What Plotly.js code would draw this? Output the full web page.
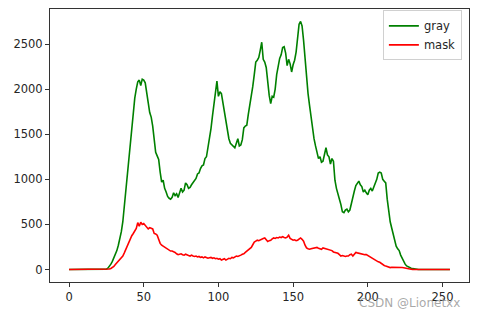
<!DOCTYPE html>
<html>
<head>
<meta charset="utf-8">
<script src="https://cdn.plot.ly/plotly-3.0.1.min.js"></script>
<style>html,body{margin:0;padding:0;background:#fff;}#chart{width:478px;height:318px;}</style>
</head>
<body>
<div id="chart"></div>
<script>
// histogram bins 0..255
const grayCounts = [
0,0,0,0,0,0,0,0,0,0, 0,0,0,0,0,0,0,0,0,0, 0,0,0,0,0,5,15,35,60,90,
125,160,210,270,330,420,530,700,880,1080, 1260,1440,1620,1790,1900,2000,2080,2100,2040,2110,
2100,2070,1980,1850,1740,1690,1590,1450,1300,1260, 1220,1080,970,990,900,860,810,790,780,800,
850,820,840,800,860,900,860,880,960,940, 900,910,940,960,990,1010,1060,1070,1120,1150,
1160,1230,1250,1340,1430,1560,1700,1850,1950,2090, 1920,1970,1950,1840,1760,1640,1540,1450,1400,1380,
1360,1350,1400,1450,1370,1380,1440,1570,1590,1600, 1720,1810,1920,2030,2160,2300,2320,2350,2430,2520,
2330,2300,2240,2060,1930,1840,1920,1910,2000,2160, 2270,2340,2380,2460,2470,2400,2260,2330,2280,2190,
2270,2320,2410,2600,2720,2750,2700,2540,2330,2140, 1950,1820,1690,1540,1450,1370,1290,1230,1250,1190,
1200,1280,1350,1270,1250,1170,1230,1200,990,900, 850,780,720,640,630,660,670,640,660,740,
810,870,930,950,980,940,920,860,880,850, 830,880,900,870,910,960,1000,1070,1080,1070,
1000,980,960,780,640,530,460,390,340,260, 230,210,160,120,85,60,40,30,20,15,
10,6,3,2,1,1,0,0,0,0, 0,0,0,0,0,0,0,0,0,0,
0,0,0,0,0,0
];
const maskCounts = [
0,0,0,0,0,0,0,0,0,0, 0,0,0,0,0,0,0,0,0,0, 0,0,0,0,0,0,2,6,12,22,
35,55,75,100,115,130,150,185,225,265, 305,340,375,400,430,455,520,480,525,500,
510,490,480,450,465,455,450,400,395,380, 320,290,270,260,250,235,225,215,205,205,
200,190,175,165,170,175,165,160,170,160, 155,150,160,150,145,150,140,145,135,140,
130,140,135,125,130,135,125,130,120,125, 115,120,105,110,120,105,115,125,120,135,
130,140,150,145,150,160,170,175,190,205, 215,230,245,275,305,315,325,320,330,340,
345,350,335,310,320,325,340,350,345,355, 350,360,355,365,355,350,360,380,345,330,
325,330,320,325,340,350,335,315,270,240, 230,225,230,235,235,240,245,235,230,225,
240,235,230,225,220,215,210,195,190,185, 180,165,150,155,150,145,150,150,165,170,
150,165,190,185,180,180,175,170,165,165, 155,145,135,125,115,100,90,85,80,65,
50,45,38,30,25,22,25,25,28,30, 30,28,25,22,20,15,10,7,5,3,
2,1,0,0,0,0,0,0,0,0, 0,0,0,0,0,0,0,0,0,0,
0,0,0,0,0,0
];
const bins = grayCounts.map((_, i) => i);
const seriesNames = ['gray', 'mask'];
const xTicks = [0, 50, 100, 150, 200, 250];
const yTicks = [0, 500, 1000, 1500, 2000, 2500];

const font = {family: 'DejaVu Sans', size: 11.5, color: '#262626'};
const traces = [
  {x: bins, y: grayCounts, name: seriesNames[0], type: 'scatter', mode: 'lines',
   line: {color: '#008000', width: 1.6}},
  {x: bins, y: maskCounts, name: seriesNames[1], type: 'scatter', mode: 'lines',
   line: {color: '#ff0000', width: 1.6}}
];
const axisCommon = {showgrid: false, zeroline: false, showline: true, mirror: true,
  linecolor: '#333', linewidth: 1, ticks: 'outside', ticklen: 4, tickwidth: 1,
  tickcolor: '#333', tickfont: font};
const layout = {
  width: 478, height: 318,
  margin: {l: 50, r: 9, t: 9, b: 36},
  paper_bgcolor: '#fff', plot_bgcolor: '#fff',
  font: font,
  showlegend: true,
  legend: {x: 0.983, y: 0.995, xanchor: 'right', yanchor: 'top',
    bgcolor: 'rgba(255,255,255,0.8)', bordercolor: '#d0d0d0', borderwidth: 1,
    tracegroupgap: 0, font: font},
  xaxis: Object.assign({}, axisCommon, {range: [-12.75, 267.75], tickvals: xTicks,
    ticktext: xTicks.map(String)}),
  yaxis: Object.assign({}, axisCommon, {range: [-138, 2888], tickvals: yTicks,
    ticktext: yTicks.map(String)}),
  annotations: [{text: 'CSDN @Lionetxx', xref: 'paper', yref: 'paper',
    x: 0.983, y: -0.077, xanchor: 'right', yanchor: 'middle', showarrow: false,
    font: {family: 'DejaVu Sans', size: 12, color: 'rgba(140,140,140,0.75)'}}]
};
Plotly.newPlot('chart', traces, layout, {displayModeBar: false, staticPlot: true});
</script>
</body>
</html>
